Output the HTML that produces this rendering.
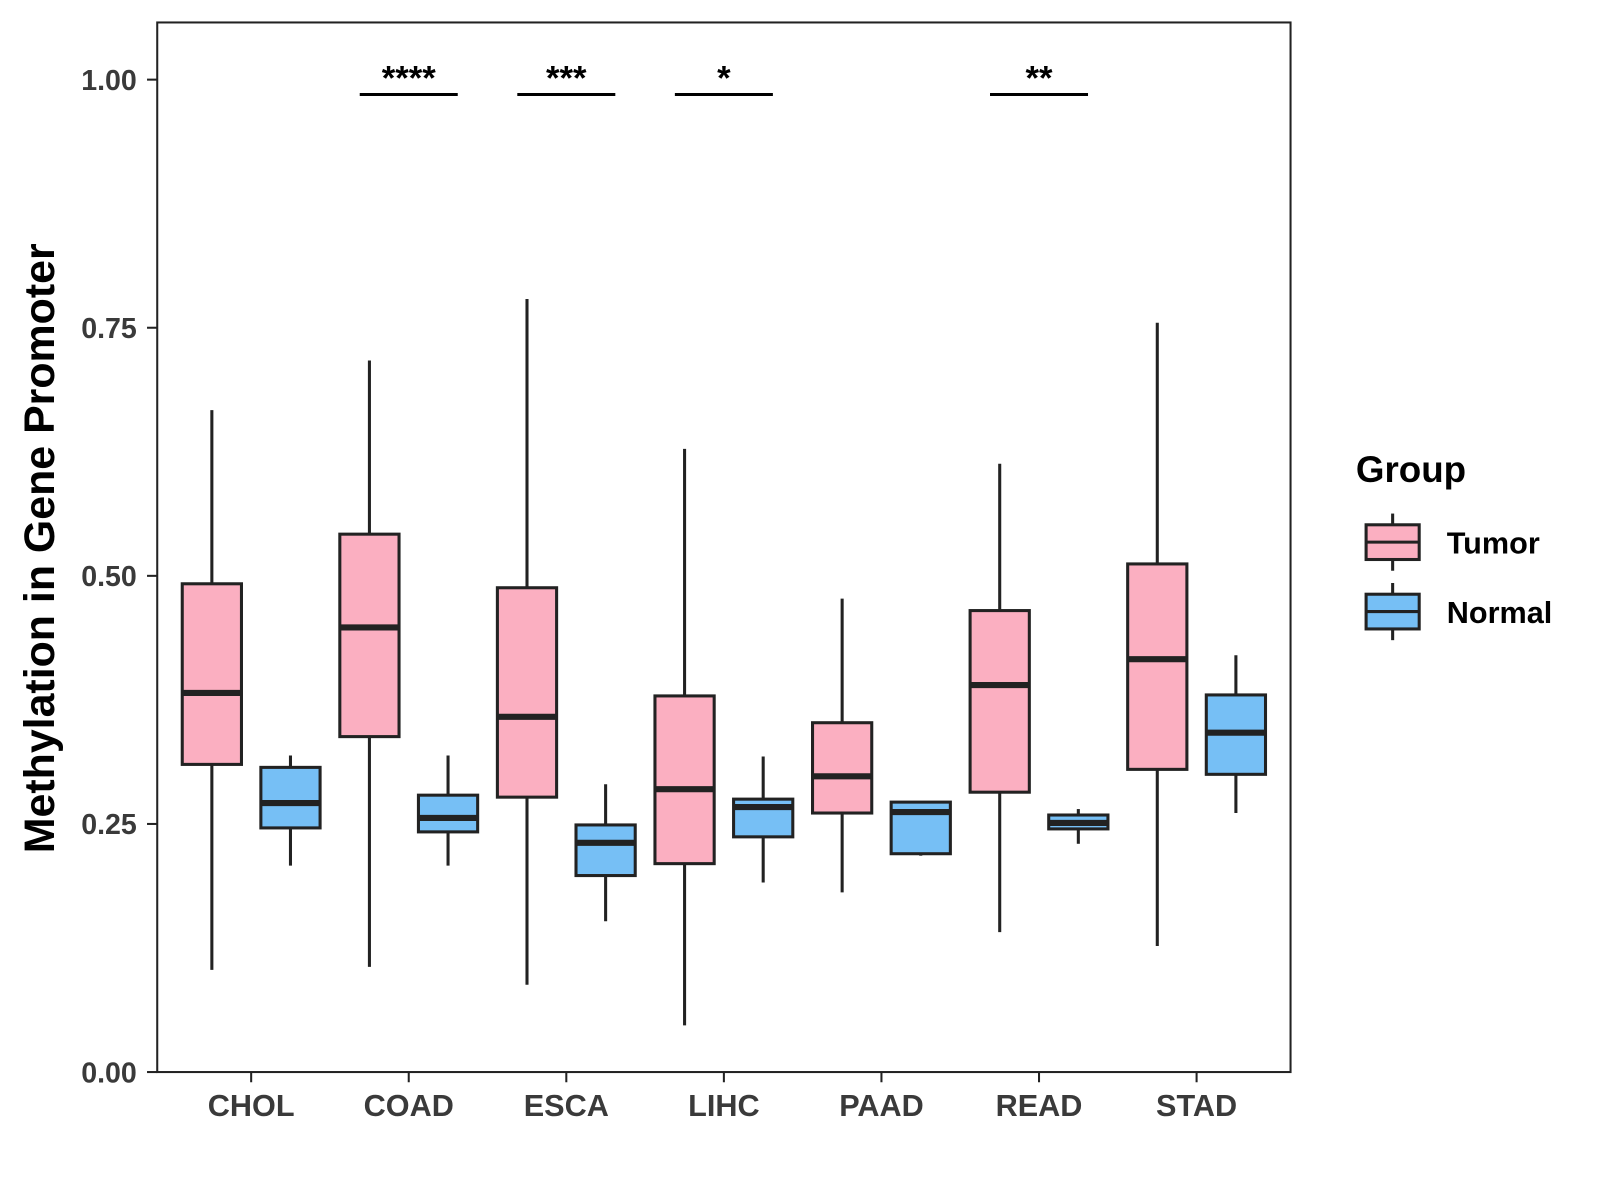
<!DOCTYPE html>
<html><head><meta charset="utf-8"><style>
body{margin:0;background:#fff}
svg{display:block;font-family:"Liberation Sans",Arial,sans-serif}
</style></head><body>
<svg id="chart" width="1600" height="1200" viewBox="0 0 1600 1200">
<g transform="scale(1.021)">
<rect x="154" y="22" width="1110" height="1028" fill="#fff" stroke="#222" stroke-width="2"/>
<g id="yaxis"></g>
<g id="xaxis"></g>
<g id="boxes"></g>
<g id="sig"></g>
<text x="53" y="537" transform="rotate(-90 53 537)" text-anchor="middle" font-size="42" font-weight="bold" fill="#000">Methylation in Gene Promoter</text>
<g>
<text x="1328" y="472" font-size="36" font-weight="bold">Group</text>
<g>
<line x1="1364" y1="503" x2="1364" y2="559" stroke="#222" stroke-width="3"/>
<rect x="1338" y="514" width="52" height="34" fill="#fbafc1" stroke="#222" stroke-width="3"/>
<line x1="1338" y1="531" x2="1390" y2="531" stroke="#222" stroke-width="3"/>
<text x="1417" y="542" font-size="30" font-weight="bold">Tumor</text></g>
<g>
<line x1="1364" y1="571" x2="1364" y2="627" stroke="#222" stroke-width="3"/>
<rect x="1338" y="582" width="52" height="34" fill="#76bff5" stroke="#222" stroke-width="3"/>
<line x1="1338" y1="599" x2="1390" y2="599" stroke="#222" stroke-width="3"/>
<text x="1417" y="610" font-size="30" font-weight="bold">Normal</text></g>
</g>
</g>
</svg>
<script>
const categories=["CHOL","COAD","ESCA","LIHC","PAAD","READ","STAD"];
// [lower whisker, q1, median, q3, upper whisker]
const tumorStats=[[0.103,0.310,0.382,0.492,0.667],[0.106,0.338,0.448,0.542,0.717],[0.088,0.277,0.358,0.488,0.779],[0.047,0.210,0.285,0.379,0.628],[0.181,0.261,0.298,0.352,0.477],[0.141,0.282,0.390,0.465,0.613],[0.127,0.305,0.416,0.512,0.755]];
const normalStats=[[0.208,0.246,0.271,0.307,0.319],[0.208,0.242,0.256,0.279,0.319],[0.152,0.198,0.231,0.249,0.290],[0.191,0.237,0.267,0.275,0.318],[0.218,0.220,0.262,0.272,0.273],[0.230,0.245,0.251,0.259,0.265],[0.261,0.300,0.342,0.380,0.420]];
const yTicks=[0,0.25,0.5,0.75,1.0];
const yTickLabels=["0.00","0.25","0.50","0.75","1.00"];
const sigCategories=["COAD","ESCA","LIHC","READ"];
const sigLabels=["****","***","*","**"];
const sigLevel=0.985;

const NS="http://www.w3.org/2000/svg";
const y=v=>1050-v*972;
const x=i=>246+i*154.33;
function mk(tag,attrs,parent){const e=document.createElementNS(NS,tag);for(const k in attrs)e.setAttribute(k,attrs[k]);parent.appendChild(e);return e;}
const ya=document.getElementById('yaxis'),xa=document.getElementById('xaxis'),bx=document.getElementById('boxes'),sg=document.getElementById('sig');
yTicks.forEach((t,i)=>{
 const l=mk('line',{x1:144,x2:154,y1:y(t),y2:y(t),stroke:'#222','stroke-width':2},ya);
 
 
 const tx=mk('text',{x:134,y:y(t)+10,'text-anchor':'end','font-size':28,'font-weight':'bold',fill:'#3a3a3a'},ya);
 tx.textContent=yTickLabels[i];
 
 
});
categories.forEach((c,i)=>{
 const l=mk('line',{x1:x(i),x2:x(i),y1:1050,y2:1060,stroke:'#222','stroke-width':2},xa);
 
 
 const tx=mk('text',{x:x(i),y:1093,'text-anchor':'middle','font-size':30,'font-weight':'bold',fill:'#3a3a3a'},xa);
 tx.textContent=c;
 
 
});
function drawBox(cx,s,fill,name){
 const g=mk('g',{},bx);
 
 
 const w=58;
 mk('line',{x1:cx,x2:cx,y1:y(s[0]),y2:y(s[4]),stroke:'#222','stroke-width':3},g);
 mk('rect',{x:cx-w/2,y:y(s[3]),width:w,height:y(s[1])-y(s[3]),fill:fill,stroke:'#222','stroke-width':3},g);
 mk('line',{x1:cx-w/2,x2:cx+w/2,y1:y(s[2]),y2:y(s[2]),stroke:'#222','stroke-width':6},g);
}
categories.forEach((c,i)=>{
 drawBox(x(i)-38.5,tumorStats[i],'#fbafc1','box-tumor-'+c.toLowerCase());
 drawBox(x(i)+38.5,normalStats[i],'#76bff5','box-normal-'+c.toLowerCase());
});
sigCategories.forEach((c,k)=>{
 const i=categories.indexOf(c);
 const l=mk('line',{x1:x(i)-48,x2:x(i)+48,y1:y(sigLevel),y2:y(sigLevel),stroke:'#000','stroke-width':3},sg);
 
 
 const t=mk('text',{x:x(i),y:y(sigLevel)-5,'text-anchor':'middle','font-size':34,'font-weight':'bold',fill:'#000'},sg);
 t.textContent=sigLabels[k];
 
 
});
</script>
</body></html>
